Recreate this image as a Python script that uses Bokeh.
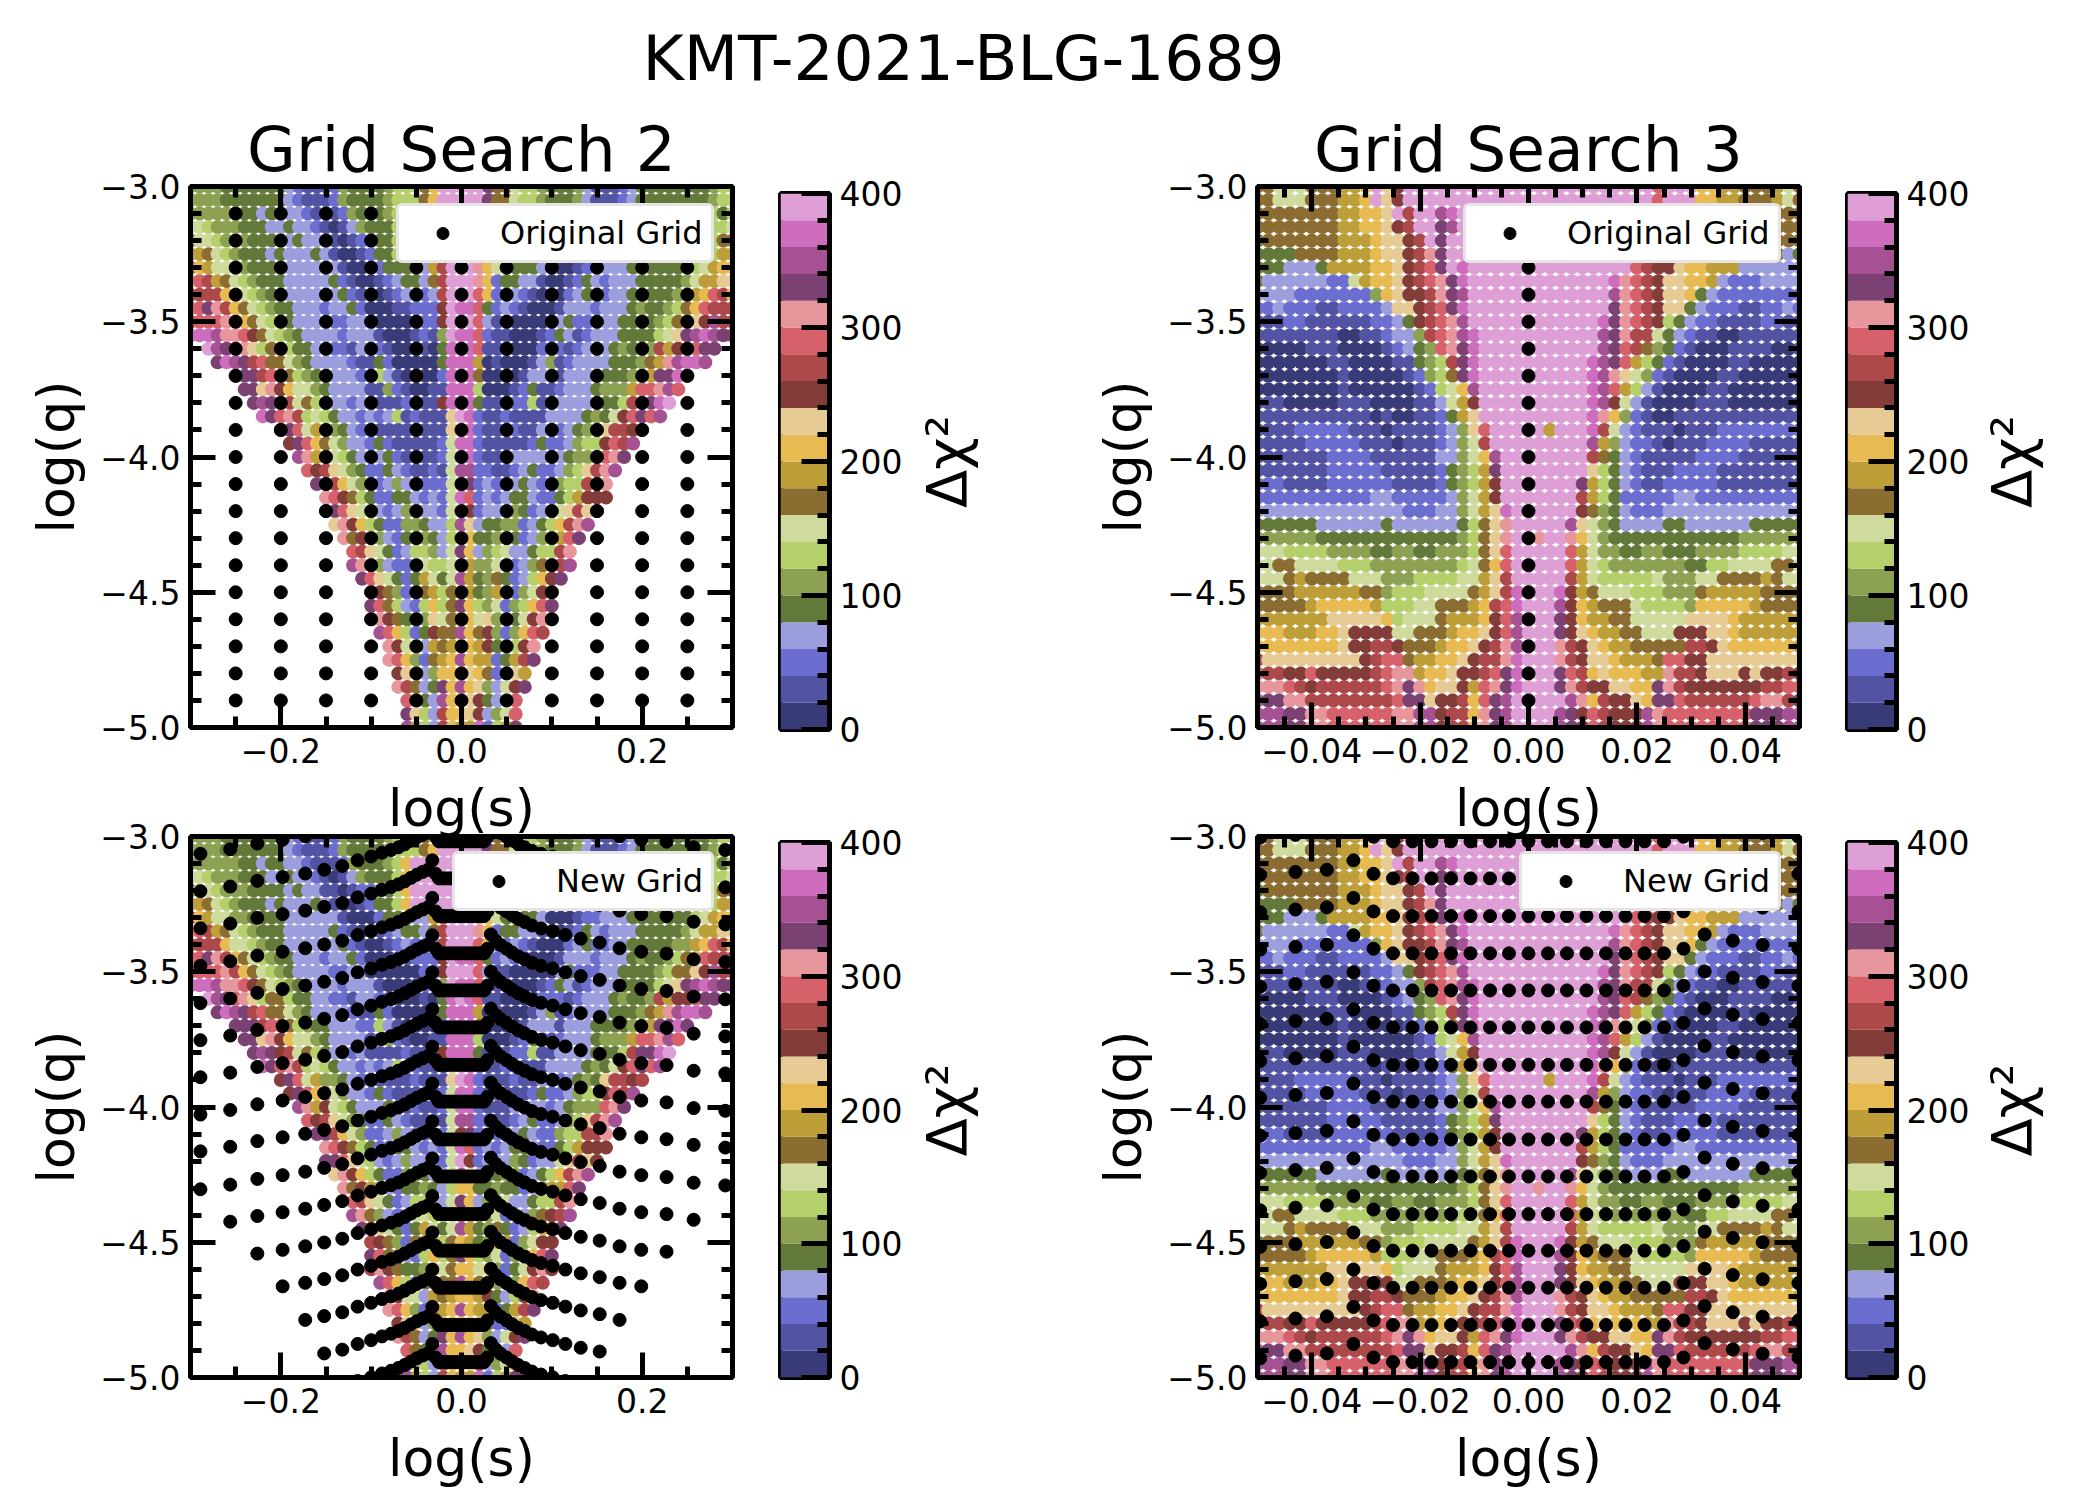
import math
import numpy as np
from bokeh.embed import file_html
from bokeh.resources import INLINE
from bokeh.layouts import column, row
from bokeh.models import (ColumnDataSource, FixedTicker, Label, LinearAxis,
                          LinearColorMapper, Range1d)
from bokeh.palettes import Category20b_20
from bokeh.plotting import figure

# Each letter is one tab20b band of Delta chi^2: a = 0-20, b = 20-40, ... t = 380-400. "." = no point.
BANDS = "abcdefghijklmnopqrst"
BAND_WIDTH = 20

logq_rows = [-3.00, -3.05, -3.10, -3.15, -3.20, -3.25, -3.30, -3.35, -3.40, -3.45, -3.50,
             -3.55, -3.60, -3.65, -3.70, -3.75, -3.80, -3.85, -3.90, -3.95, -4.00,
             -4.05, -4.10, -4.15, -4.20, -4.25, -4.30, -4.35, -4.40, -4.45, -4.50,
             -4.55, -4.60, -4.65, -4.70, -4.75, -4.80, -4.85, -4.90, -4.95, -5.00]

# Grid Search 2: log s from -0.30 to 0.30 in steps of 0.01 (left part to 0.00, right part after it)
gs2_left = [
 "ffffeeeeeeedcbbbcfeeeefgggikttt", "ffffeeeeeeedcbbbcfeeeefgggikttt",
 "ffffffeedeeddcbbbcfeeefgktttttt", "hhgfffeeeddeddcbabdfeeegktttttt",
 "ihhgfffeeeededdbbabcceegktttttt", "jjihgfeeededddedbaabceegktttttt",
 "nkjhhffeeeeddddddbaaaceeeddjntt", "konjihgfeeedddddecbaabcdeedintt",
 "nnnnkhhgfeeddddddecbaabcdccdntt", "ooqpnkihgfeedddcddecaaabbcccmts",
 "nooopnkihgfeddddccddaaaaaaccmtt", "sssrppomihgfeddddcdddbaaabcbfts",
 "trqoplgiigeeddccbddcbaaabaest", "qsrqnoiihfeddddcbbecaaaaaess",
 "qqqnooigfeedddccgdbaaaacss", "qqlpmkhhfeddddbbfcbaabbss",
 "qrqmnhigeddcdbbbbcbbbmss", "sqopnghgeddcdcdgbcbbblt",
 "mqohjffedccbbbbcbbblt", "mqokihfddcecbbbbbchs",
 "rpjmhgedddecbcbbchs", "omnlhfeccedcbbcbhr",
 "qqnkhfccdfdcccchm", "pomigecceedcdchs",
 "qqolhgdcdfdddcht", "lpmkgeccffeddgr",
 "pimjfdceefedgk", "onlhecdggfdhq",
 "rpifdcchhgghr", "qolhecejhehr",
 "nmifciijgik", "qoigdcgkgiq",
 "npmieeflhik", "rokgcemiir",
 "pmhhdjijk", "pokfcijkr",
 "mlldfkkk", "pnideqkr",
 "oiedrkk", "qlgdnkk", "rjgdnkj"]
gs2_right = [
 "ttqiihggfeeefdbbbcdeeeeeeeefgg", "ttqiihggfeeefdbbbcdeeeeeeeefgg",
 "kqeehgfeeeecbbbcdeeeeeeeeefgeg", "kqeehgfeeeecbbbcdeeeeeeeeefggh",
 "kqeehgfeeeecbbbcdeeeeeeeeefgii", "kqeehgfeeeecbbbcdeeeeeeeeefgjj",
 "tpkheeeedaaabccdddeeeeeeeghjkk", "tpkceeddbaabcedcdddeeeeefhjjll",
 "tokccdcbaaacdeccddeeeeeffjkonk", "soecdcbaaabdddcdddefeefgikonnn",
 "todbbaaaaadecccddeeeefgiilmrnn", "socbbaaabcedbcdddeeeeghlqrsrqq",
 "sobbaaaacccbcdddefeefnjmmoqq", "sjabaaabdfbcddddeeefijprssr",
 "siaaaabdddbdddeeeeffjqqsq", "sgaaabcebbcdddefffjoopro",
 "sebbbccgbbddddeeegnqqst", "scbbcbbbbddddefehmoqor",
 "scbbbcbbdccdefelnnmn", "scbbbbbceccdfggmonr",
 "scbbbddddcdefffopq", "rccbbcdeccdfglnpr",
 "qcdccdedccfggnnp", "ocdcdeedccegjmmm",
 "mcdddfecddhlnlm", "ldeeffcdegknpr",
 "keefeecdfjjoq", "kdfghddeggnp",
 "jffhccdfimnr", "jefiecdgkmq",
 "jefjjcfhmm", "kgfhcfgkoq",
 "khlfcehmpm", "kimfcfkon",
 "kjmedgmp", "kjjcejnq",
 "lkicclj", "klfdhmq",
 "lmeddo", "lmdfho", "jscgjq"]

# Grid Search 3: log s from -0.05 to 0.05 in steps of 0.002
gs3_left = [
 "iihhhiiijjktlmtttttttttttt", "iihhhiiijjktlmtttttttttttt",
 "iiiiiiiijjkkltnttrsttttttt", "iiiiiiiijjkklmnttqrttttttt",
 "eiiiiiiijjjkllmntqtttttttt", "eeeeiiiijjjkllmnpqtttttttt",
 "eeedddejjjjkklmnoqtstttttt", "eddddddcchjkklmnopqstttttt",
 "ddddcccccccfklmmnpqrtttttt", "ccdcccbbccccdllmnoqstttttt",
 "bbbccbbbbbbccdemnoprtttttt", "bbbbbbbbaabbcddfnoprsttttt",
 "aaaaabbbaaaabcdefopqsttttt", "aaaaaaabbaaaabbefgnqsttttt",
 "aaaaaaaabaaaaabcfgiqsttttt", "aaaaaaaabaaaaaabcghkrttttt",
 "bbbaaaaabbbaaaabbdhjmttttt", "bbbbbbbbbbbabaabbcejlttttt",
 "bbbbcccccbbbabbbbcdflotttt", "bbbbbcccccbbbabbbcdfhntttt",
 "bbbbbbbccccbbbbbbddfhkrttt", "bbbbbbbcccccbbbbbcefgjqttt",
 "cccbbbbccccccbbbbcefgjmttt", "cccccccccccddcccccdfhjmttt",
 "ddddddddddddddcccddfhjlstt", "eeeeeeddddddeddddddegilptt",
 "ffffffeeeeeeeeeeeeefgilptt", "hhhggggffffeeffeefffgilott",
 "hhiihhhhgggffffffffghikott", "hhhijiiiihhhfffgggghhjlntt",
 "iiiijjjjjjiifggghhhhijlnst", "iiiiijkkkkkjggghhiiijknost",
 "jjjjjjjlllllkghhhijjjkmort", "kkkjjjkklmmmmhhiiijkklmort",
 "kkkkkkkklmmnnmiiijkklmnprt", "nlllllllllmnooijjkklmnnpst",
 "onnmmommmmmnoppjkklmmnoqst", "ppponmnnnnnnopqpkllmjopqst",
 "rqqppnnnnnnnnoqqlmmnkoqrtt", "rrrqqppoooooopprrmnnkpqrtt",
 "rrrqqppoooooopprrmnnkpqrtt"]
gs3_right = [
 "tttttttttttotttkkjjiiijhi", "tttttttttttotttkkjjiiijhi",
 "tttttttttttnmlkkjjjjjiiii", "tttttttttttnmlkkjjjjjiiii",
 "tttttttttttnmlkkjjjjjiiii", "tttttttttttnmlkkjjjjjiide",
 "tttttttttonmmlkkjjjdddddd", "tttttttsponmllkkjdcccdddd",
 "tttttttrponmllkedcccccccc", "tttttttqponmlledcccbbccdc",
 "ttttttsqponmgedccbbbbccbb", "ttttttrqpnnhedcbbaabbbbbb",
 "ttttttrqonifecbaaabbbbaab", "tttttsrqojgecbaaaabbaaaaa",
 "tttttsrplhfcbaaaabbaaaaaa", "tttttsrojgdbaaaabbaaaaaaa",
 "tttttsrmhdbaaaabbbaaaaaaa", "tttttspkfcbaabbbbbbbbbbbb",
 "tjtttsnhdcbbbabbbcccccccc", "tttttrjfdccbabbbccccbbbbb",
 "tttttniedcbbbbbccccbbbbbb", "tttttlgedcbbbccccbbbbbbbb",
 "ttttqjgedcbbcccccbbbbbbbb", "ttttnjgecccccddcccccccccc",
 "ttttmifedcccddddddddddddd", "tttrlhfeddddeeddddddeeeee",
 "pttpkhfeeeeeeeeeeeeffffff", "tttojhffeeffeeeffffgggghh",
 "tttojhgfffffffeegghhhhiih", "tttnjhggggghfffhhiiiijihh",
 "ttsmjihhhgggfffijjjjjiiii", "ttrmkjiiihggggfkkkkkjiiii",
 "ttqmkjjiihhhhhllllkjjjjjj", "ttqmlkjjiihhhmmmllkjjjjjj",
 "ttpnmlkjjiiiiinnmlkkkkkkj", "ttpnmllkjjjioommllllllllln",
 "ttqonklkkkjjpnnmlllmlmmnm", "ttqpnmmllkkqpnmmmmmmmnnoo",
 "tttrpknmmlkqqonnnnnnoppnq", "ttrqmonmmmrpooooooooqqqrr",
 "ttrqmonmmmrpooooooooqqqrr"]

# Original grid (black points)
orig_s = [-0.25, -0.20, -0.15, -0.10, -0.05, 0.0, 0.05, 0.10, 0.15, 0.20, 0.25]
orig_q = [-3.1, -3.2, -3.3, -3.4, -3.5, -3.6, -3.7, -3.8, -3.9, -4.0, -4.1, -4.2, -4.3,
          -4.4, -4.5, -4.6, -4.7, -4.8, -4.9]
orig_s3 = [0.0]

# New grid (black points): chevron rows
new_flat_q = [-2.88, -3.018, -3.155, -3.294, -3.432, -3.569, -3.706, -3.844, -3.98, -4.12,
              -4.257, -4.396, -4.531, -4.668, -4.806, -4.943]
new_max_s = [0.3, 0.3, 0.3, 0.3, 0.3, 0.3, 0.3, 0.3, 0.3, 0.3,
             0.27, 0.24, 0.21, 0.185, 0.16, 0.14]
new_s = [-0.289, -0.256, -0.226, -0.198, -0.173, -0.152, -0.132, -0.115, -0.100, -0.088,
         -0.078, -0.070, -0.063, -0.056, -0.0495, -0.043, -0.0372, -0.0323, -0.0286,
         -0.025, -0.0214, -0.0179, -0.0143, -0.0107, -0.0071, -0.0036, 0.0, 0.0036, 0.0071,
         0.0107, 0.0143, 0.0179, 0.0214, 0.025,
         0.0286, 0.0325, 0.0377, 0.0432, 0.0498, 0.056, 0.063, 0.070, 0.078, 0.088,
         0.101, 0.115, 0.132, 0.153, 0.175, 0.199, 0.227, 0.257, 0.292]
new_dq = [-0.184, -0.167, -0.146, -0.132, -0.119, -0.105, -0.091, -0.070, -0.056, -0.042,
          -0.032, -0.022, -0.011, 0.002, 0.014, 0.024, 0.032, 0.067, 0.017,
          0.0, 0.0, 0.0, 0.0, 0.0, 0.0, 0.0, 0.0, 0.0, 0.0,
          0.0, 0.0, 0.0, 0.0, 0.0,
          0.017, 0.070, 0.047, 0.031, 0.017, 0.003, -0.011, -0.022, -0.035, -0.046,
          -0.056, -0.070, -0.084, -0.098, -0.119, -0.132, -0.139, -0.160, -0.170]

cbar_ticks = [0, 100, 200, 300, 400]
cbar_labels = ["0", "100", "200", "300", "400"]
cbar_edges = [0, 20, 40, 60, 80, 100, 120, 140, 160, 180, 200, 220, 240, 260, 280, 300,
              320, 340, 360, 380, 400]
q_ticks = [-3.0, -3.5, -4.0, -4.5, -5.0]
q_labels = ["\u22123.0", "\u22123.5", "\u22124.0", "\u22124.5", "\u22125.0"]
q_minor = [-3.1, -3.2, -3.3, -3.4, -3.6, -3.7, -3.8, -3.9, -4.1, -4.2, -4.3, -4.4,
           -4.6, -4.7, -4.8, -4.9]
s2_ticks = [-0.2, 0.0, 0.2]
s2_labels = ["\u22120.2", "0.0", "0.2"]
s2_minor = [-0.25, -0.15, -0.10, -0.05, 0.05, 0.10, 0.15, 0.25]
s3_ticks = [-0.04, -0.02, 0.0, 0.02, 0.04]
s3_labels = ["\u22120.04", "\u22120.02", "0.00", "0.02", "0.04"]
s3_minor = [-0.045, -0.035, -0.03, -0.025, -0.015, -0.01, -0.005, 0.005, 0.01, 0.015,
            0.025, 0.03, 0.035, 0.045]

FONT = "DejaVu Sans"
TICK_PX = "33px"
LEGEND_PX = "32px"
LABEL_PX = "52px"
TITLE_PX = "63px"
mapper = LinearColorMapper(palette=list(Category20b_20), low=0, high=400)


def decode(left, right, s_values):
    n_left = (len(s_values) + 1) // 2
    xs, ys, vals = [], [], []
    for q, l, r in zip(logq_rows, left, right):
        line = l.rjust(n_left, ".") + r.ljust(len(s_values) - n_left, ".")
        for s, ch in zip(s_values, line):
            if ch != ".":
                xs.append(s)
                ys.append(q)
                vals.append(BANDS.index(ch) * BAND_WIDTH + BAND_WIDTH / 2)
    return ColumnDataSource(dict(x=xs, y=ys, v=vals))


def style_axis(ax, ticks, minor, labels, label=None, standoff=14):
    ax.ticker = FixedTicker(ticks=ticks, minor_ticks=minor)
    ax.axis_line_width = 5
    ax.axis_line_color = "black"
    ax.major_tick_line_width = 5
    ax.minor_tick_line_width = 5
    ax.major_tick_line_color = "black"
    ax.minor_tick_line_color = "black"
    ax.major_tick_in = 25
    ax.major_tick_out = 0
    ax.minor_tick_in = 11
    ax.minor_tick_out = 0
    ax.major_label_overrides = dict(zip(ticks, labels))
    ax.major_label_text_font = FONT
    ax.major_label_text_font_size = TICK_PX
    ax.major_label_text_color = "black"
    ax.major_label_standoff = 10
    if label:
        ax.axis_label = label
        ax.axis_label_text_font = FONT
        ax.axis_label_text_font_size = LABEL_PX
        ax.axis_label_text_font_style = "normal"
        ax.axis_label_text_color = "black"
        ax.axis_label_standoff = standoff


def mirror_axis(ax, ticks, minor):
    style_axis(ax, ticks, minor, [""] * len(ticks))
    ax.major_label_text_font_size = "1px"
    ax.major_label_standoff = 0


def panel(title, left, xr, ticks, labels, minor, src, px, py, legend_name, legend_loc, top, bottom, shift):
    fw, fh, right = 542, 541, 13
    p = figure(width=left + fw + right, height=top + fh + bottom, frame_width=fw, frame_height=fh,
               min_border_left=left, min_border_right=right, min_border_top=top,
               min_border_bottom=bottom, x_range=Range1d(-xr, xr), y_range=Range1d(-5, -3),
               output_backend="svg", toolbar_location=None, title=title,
               margin=(shift, 0, 0, 0), border_fill_color=None)
    p.grid.visible = False
    p.outline_line_color = "black"
    p.outline_line_width = 5
    p.background_fill_color = "white"
    if title:
        p.title.text_font = FONT
        p.title.text_font_size = TITLE_PX
        p.title.text_font_style = "normal"
        p.title.text_color = "black"
        p.title.align = "center"
        p.title.standoff = 1
    style_axis(p.xaxis[0], ticks, minor, labels, "log(s)", 12)
    style_axis(p.yaxis[0], q_ticks, q_minor, q_labels, "log(q)", 11)
    above = LinearAxis()
    mirror_axis(above, ticks, minor)
    p.add_layout(above, "above")
    rgt = LinearAxis()
    mirror_axis(rgt, q_ticks, q_minor)
    p.add_layout(rgt, "right")
    p.scatter("x", "y", source=src, size=14, marker="circle", line_color=None,
              fill_color={"field": "v", "transform": mapper})
    p.scatter(px, py, size=13, marker="circle", color="black", legend_label=legend_name)
    lg = p.legend[0]
    lg.location = legend_loc
    lg.label_text_font = FONT
    lg.label_text_font_size = LEGEND_PX
    lg.label_text_color = "black"
    lg.padding = 8
    lg.margin = 0
    lg.glyph_width = 71
    lg.glyph_height = 30
    lg.label_standoff = 22
    lg.label_height = 33
    lg.border_line_color = "#cccccc"
    lg.border_line_width = 3
    lg.background_fill_color = "white"
    lg.background_fill_alpha = 1.0
    lg.border_radius = 6
    return p


def cbar(shift, top, fh, bottom):
    right = 80
    p = figure(width=35 + 49 + right, height=top + fh + bottom, frame_width=49, frame_height=fh,
               min_border_left=35, min_border_right=right, min_border_top=top,
               min_border_bottom=bottom, x_range=Range1d(0, 1), y_range=Range1d(0, 400),
               y_axis_location="right", output_backend="svg", toolbar_location=None,
               margin=(shift, 0, 0, 0), border_fill_color=None)
    p.grid.visible = False
    p.xaxis.visible = False
    p.outline_line_color = "black"
    p.outline_line_width = 5
    p.quad(left=0, right=1, bottom=cbar_edges[:-1], top=cbar_edges[1:],
           fill_color=list(Category20b_20), line_color=None)
    minors = [e for e in cbar_edges if e not in cbar_ticks]
    style_axis(p.yaxis[0], cbar_ticks, minors, cbar_labels)
    ax = p.yaxis[0]
    ax.major_tick_in = 28
    ax.minor_tick_in = 12
    return p


def cbar_title(shift, top, fh, bottom, width, cx):
    p = figure(width=width, height=top + fh + bottom, frame_width=width, frame_height=fh,
               min_border_left=0, min_border_right=0, min_border_top=top, min_border_bottom=bottom,
               x_range=Range1d(0, 1), y_range=Range1d(0, 1), output_backend="svg",
               toolbar_location=None, margin=(shift, 0, 0, 0), border_fill_color=None)
    p.axis.visible = False
    p.grid.visible = False
    p.outline_line_color = None
    p.background_fill_color = None
    p.add_layout(Label(x=cx, y=fh / 2, x_units="screen", y_units="screen",
                       text="\u0394\u03c7\u00b2", angle=math.pi / 2, text_align="center",
                       text_baseline="middle", text_font=FONT, text_font_size="56px",
                       text_color="black"))
    return p


src2 = decode(gs2_left, gs2_right, [round(-0.30 + 0.01 * i, 2) for i in range(61)])
src3 = decode(gs3_left, gs3_right, [round(-0.05 + 0.002 * i, 3) for i in range(51)])

o2x = [s for s in orig_s for q in orig_q]
o2y = [q for s in orig_s for q in orig_q]
o3x = [s for s in orig_s3 for q in orig_q]
o3y = [q for s in orig_s3 for q in orig_q]

nx, ny = [], []
for fq, ms in zip(new_flat_q, new_max_s):
    for s, d in zip(new_s, new_dq):
        if abs(s) <= ms:
            nx.append(s)
            ny.append(fq + d)

LEG_TOP = (206, 464)
LEG_BOT = (262, 466)
p1 = panel("Grid Search 2", 190, 0.3, s2_ticks, s2_labels, s2_minor, src2, o2x, o2y,
           "Original Grid", LEG_TOP, 91, 120, 0)
p2 = panel("Grid Search 3", 257, 0.05, s3_ticks, s3_labels, s3_minor, src3, o3x, o3y,
           "Original Grid", LEG_TOP, 91, 120, 0)
p3 = panel(None, 190, 0.3, s2_ticks, s2_labels, s2_minor, src2, nx, ny, "New Grid", LEG_BOT, 30, 110, -41)
p4 = panel(None, 257, 0.05, s3_ticks, s3_labels, s3_minor, src3, nx, ny, "New Grid", LEG_BOT, 30, 110, -41)

sup = figure(width=2058, height=95, x_range=Range1d(0, 1), y_range=Range1d(0, 1),
             output_backend="svg", toolbar_location=None, min_border=0)
sup.axis.visible = False
sup.grid.visible = False
sup.outline_line_color = None
sup.add_layout(Label(x=963, y=37, x_units="screen", y_units="screen", text="KMT-2021-BLG-1689",
                     text_align="center", text_baseline="middle", text_font=FONT,
                     text_font_size=TITLE_PX, text_color="black"))

page = column(sup,
              row(p1, cbar(7, 91, 536, 118), cbar_title(7, 91, 536, 118, 91, 37),
                  p2, cbar(7, 91, 536, 118), cbar_title(7, 91, 536, 118, 90, 35)),
              row(p3, cbar(-35, 30, 535, 110), cbar_title(-35, 30, 535, 110, 91, 37),
                  p4, cbar(-35, 30, 535, 110), cbar_title(-35, 30, 535, 110, 90, 35)))
open("out.html", "w").write(file_html(page, INLINE))
